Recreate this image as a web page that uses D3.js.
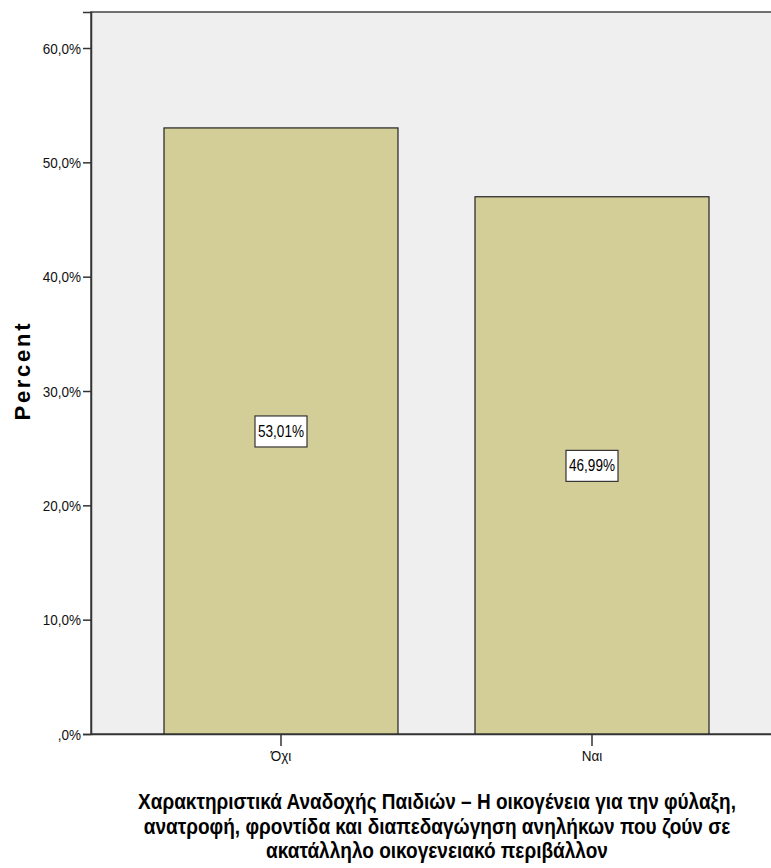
<!DOCTYPE html>
<html><head><meta charset="utf-8">
<script src="https://cdn.jsdelivr.net/npm/d3@7"></script>
<style>body{margin:0;background:#fff}svg{display:block}</style>
</head><body>
<svg id="c" width="771" height="868"></svg>
<script>
const categories = ["Όχι", "Ναι"];
const percentValues = [53.01, 46.99];
const valueLabels = ["53,01%", "46,99%"];
const yTicks = [0, 10, 20, 30, 40, 50, 60];
const yTickLabels = [",0%", "10,0%", "20,0%", "30,0%", "40,0%", "50,0%", "60,0%"];
const yTitle = "Percent";
const xTitleLines = [
  "Χαρακτηριστικά Αναδοχής Παιδιών – Η οικογένεια για την φύλαξη,",
  "ανατροφή, φροντίδα και διαπεδαγώγηση ανηλήκων που ζούν σε",
  "ακατάλληλο οικογενειακό περιβάλλον"
];
const xTitleWidths = [598, 587, 342];

const svg = d3.select("#c");
const pLeft = 91, pTop = 12, pBottom = 734, pRight = 782;
const y = d3.scaleLinear().domain([0, 63.15]).range([pBottom, pTop]);
const x = d3.scaleBand().domain(categories).range([pLeft, pRight]).paddingInner(0.2476).paddingOuter(0.2347);

svg.append("rect").attr("x", pLeft).attr("y", pTop).attr("width", 771 - pLeft + 5).attr("height", pBottom - pTop)
  .attr("fill", "#efefef").attr("stroke", "#444").attr("stroke-width", 1.5);

const font = "'Liberation Sans', Arial, sans-serif";

svg.selectAll("rect.bar").data(percentValues).join("rect").attr("class", "bar")
  .attr("x", (d, i) => x(categories[i])).attr("width", x.bandwidth())
  .attr("y", d => y(d)).attr("height", d => y(0) - y(d))
  .attr("fill", "#d3ce97").attr("stroke", "#222").attr("stroke-width", 1.2);

// value labels
percentValues.forEach((d, i) => {
  const cx = x(categories[i]) + x.bandwidth() / 2;
  const cy = (y(d) + y(0)) / 2;
  const g = svg.append("g");
  g.append("rect").attr("x", cx - 26).attr("y", cy - 15).attr("width", 52).attr("height", 31)
    .attr("fill", "#fff").attr("stroke", "#333").attr("stroke-width", 1.2);
  g.append("text").attr("x", cx).attr("y", cy + 6).attr("text-anchor", "middle")
    .attr("font-family", font).attr("font-size", 16).attr("fill", "#000")
    .attr("textLength", 46).attr("lengthAdjust", "spacingAndGlyphs").text(valueLabels[i]);
});

// y axis
const yAxis = d3.axisLeft(y).tickValues(yTicks).tickSize(8).tickFormat((d, i) => yTickLabels[i]);
const ga = svg.append("g").attr("transform", `translate(${pLeft},0)`).call(yAxis);
ga.select(".domain").attr("stroke", "#333").attr("stroke-width", 1.5);
ga.selectAll(".tick line").attr("stroke", "#333").attr("stroke-width", 1.5);
ga.selectAll(".tick text").attr("font-family", font).attr("font-size", 15).attr("fill", "#111").attr("x", -10).attr("dy", "0.35em")
  .each(function () { const w = this.getComputedTextLength(); d3.select(this).attr("textLength", w * 0.9).attr("lengthAdjust", "spacingAndGlyphs"); });

// x axis
const xAxis = d3.axisBottom(x).tickSize(12).tickSizeOuter(0);
const gx = svg.append("g").attr("transform", `translate(0,${pBottom})`).call(xAxis);
gx.select(".domain").attr("stroke", "#333").attr("stroke-width", 1.5);
gx.selectAll(".tick line").attr("stroke", "#333").attr("stroke-width", 1.5);
gx.selectAll(".tick text").attr("font-family", font).attr("font-size", 15).attr("fill", "#111").attr("y", 16)
  .each(function () { const w = this.getComputedTextLength(); d3.select(this).attr("textLength", w * 0.9).attr("lengthAdjust", "spacingAndGlyphs"); });

// y title
svg.append("text").attr("transform", "translate(30,372) rotate(-90)").attr("text-anchor", "middle")
  .attr("font-family", font).attr("font-weight", "bold").attr("font-size", 22)
  .attr("textLength", 97).attr("lengthAdjust", "spacing")
  .attr("fill", "#000").text(yTitle);

// x title (horizontally condensed via scale transform)
xTitleLines.forEach((l, i) => {
  const t = svg.append("text").attr("x", 0).attr("y", 0).attr("text-anchor", "middle")
    .attr("font-family", font).attr("font-weight", "bold")
    .attr("font-size", 22).attr("fill", "#000").text(l);
  const w = t.node().getComputedTextLength();
  const sx = xTitleWidths[i] / w;
  t.attr("transform", `translate(437,${809 + i * 24.5}) scale(${sx},1)`);
});
</script>
</body></html>
